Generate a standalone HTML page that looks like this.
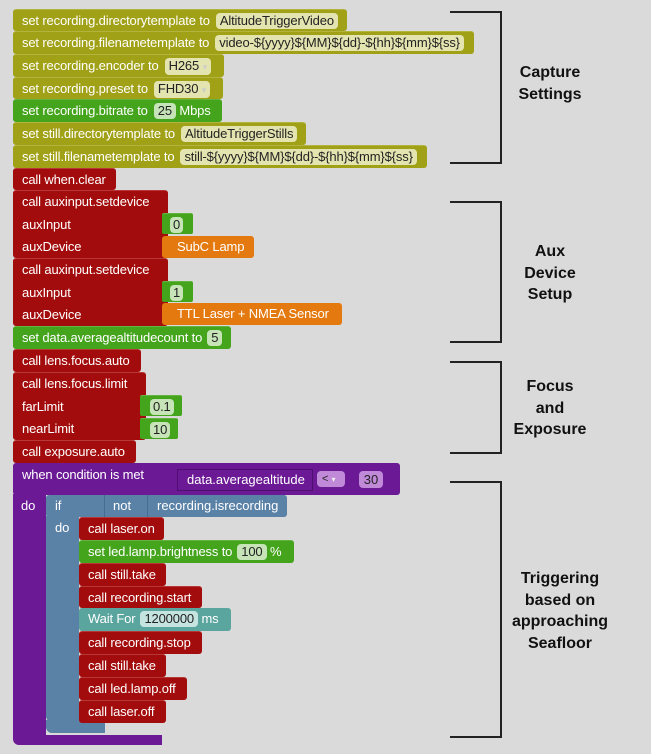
<!DOCTYPE html>
<html><head><meta charset="utf-8"><style>
html,body{margin:0;padding:0;background:#dadada;width:651px;height:754px;overflow:hidden}
body{position:relative;font-family:"Liberation Sans",Arial,sans-serif}
.b{position:absolute;color:#fff;font-size:13px;letter-spacing:-0.15px;line-height:22px;padding-left:9px;box-sizing:border-box;white-space:nowrap;border-radius:3px 3px 3px 3px}
.o{background:#a0a117;border-top:1px solid #b3b43e}
.g{background:#44a41c;border-top:1px solid #62b33f}
.r{background:#a30c0c;border-top:1px solid #b83838}
.or{background:#e3790f}
.p{background:#6c1996}
.bl{background:#5a81a6}
.t{background:#5aa59d}
.f{display:inline-block;padding:0 4px;border-radius:4px;line-height:16px;margin-left:3px;color:#222}
.o .f{background:#e4e4b0}
.g .f,.gi .f{background:#c7e3b8}
.t .f{background:#c5e4e0}
.br{position:absolute;border:2px solid #222;border-left:none;box-sizing:border-box}
.lb{position:absolute;font-weight:bold;font-size:16px;line-height:21.5px;text-align:center;color:#111;width:120px}
</style></head><body>

<div class="b o" style="left:13px;top:9px;width:334px;height:22px">set recording.directorytemplate to<span class="f" style="margin-left:6px">AltitudeTriggerVideo</span></div>
<div class="b o" style="left:13px;top:31px;width:461px;height:23px">set recording.filenametemplate to<span class="f" style="margin-left:6px">video-${yyyy}${MM}${dd}-${hh}${mm}${ss}</span></div>
<div class="b o" style="left:13px;top:54px;width:211px;height:23px">set recording.encoder to<span class="f" style="margin-left:6px">H265 <span style="font-size:9px;color:#ccc">▾</span></span></div>
<div class="b o" style="left:13px;top:77px;width:210px;height:22px">set recording.preset to<span class="f" style="margin-left:6px">FHD30 <span style="font-size:9px;color:#ccc">▾</span></span></div>
<div class="b g" style="left:13px;top:99px;width:209px;height:23px">set recording.bitrate to<span class="f" style="margin-left:6px">25</span> Mbps</div>
<div class="b o" style="left:13px;top:122px;width:293px;height:23px">set still.directorytemplate to<span class="f" style="margin-left:6px">AltitudeTriggerStills</span></div>
<div class="b o" style="left:13px;top:145px;width:414px;height:23px">set still.filenametemplate to<span class="f" style="margin-left:6px">still-${yyyy}${MM}${dd}-${hh}${mm}${ss}</span></div>
<div class="b r" style="left:13px;top:168px;width:103px;height:22px">call when.clear</div>

<div class="b r" style="left:13px;top:190px;width:155px;height:68px;line-height:22.7px">call auxinput.setdevice<br>auxInput<br>auxDevice</div>
<div class="b g" style="left:162px;top:213px;width:31px;height:21px;border-radius:2px;padding-left:8px"><span class="f" style="margin:0;padding:0 3px">0</span></div>
<div class="b or" style="left:162px;top:236px;width:92px;height:22px;padding-left:15px">SubC Lamp</div>
<div class="b r" style="left:13px;top:258px;width:155px;height:68px;line-height:22.7px">call auxinput.setdevice<br>auxInput<br>auxDevice</div>
<div class="b g" style="left:162px;top:281px;width:31px;height:21px;border-radius:2px;padding-left:8px"><span class="f" style="margin:0;padding:0 3px">1</span></div>
<div class="b or" style="left:162px;top:303px;width:180px;height:22px;padding-left:15px">TTL Laser + NMEA Sensor</div>

<div class="b g" style="left:13px;top:326px;width:218px;height:23px">set data.averagealtitudecount to<span class="f" style="margin-left:5px">5</span></div>
<div class="b r" style="left:13px;top:349px;width:128px;height:23px">call lens.focus.auto</div>
<div class="b r" style="left:13px;top:372px;width:133px;height:68px;line-height:22.7px">call lens.focus.limit<br>farLimit<br>nearLimit</div>
<div class="b g" style="left:140px;top:395px;width:42px;height:21px;border-radius:2px;padding-left:10px"><span class="f" style="margin:0;padding:0 3px">0.1</span></div>
<div class="b g" style="left:140px;top:418px;width:38px;height:21px;border-radius:2px;padding-left:10px"><span class="f" style="margin:0;padding:0 3px">10</span></div>
<div class="b r" style="left:13px;top:440px;width:123px;height:23px">call exposure.auto</div>

<!-- purple event -->
<div class="b p" style="left:13px;top:463px;width:387px;height:32px;line-height:24px">when condition is met</div>
<div class="b p" style="left:13px;top:494px;width:33px;height:246px;border-radius:0 0 0 6px;line-height:24px;padding-left:8px">do</div>
<div class="b p" style="left:13px;top:735px;width:149px;height:10px;border-radius:0 0 0 6px"></div>
<div style="position:absolute;left:177px;top:469px;width:136px;height:22px;border:1px solid #4e0f70;box-sizing:border-box;color:#fff;font-size:13px;line-height:20px;padding-left:9px">data.averagealtitude</div>
<div style="position:absolute;left:317px;top:471px;width:28px;height:16px;background:#c08ad8;border-radius:4px;font-size:11px;line-height:16px;color:#222;padding-left:5px;box-sizing:border-box">&lt; <span style="font-size:8px;color:#eee">▾</span></div>
<div style="position:absolute;left:359px;top:471px;width:24px;height:17px;background:#c08ad8;border-radius:4px;font-size:13px;line-height:17px;color:#222;text-align:center">30</div>

<!-- if -->
<div class="b bl" style="left:46px;top:495px;width:241px;height:22px;line-height:22px">if</div>
<div class="b bl" style="left:46px;top:516px;width:33px;height:206px;border-radius:0 0 0 6px;line-height:24px;padding-left:9px">do</div>
<div class="b bl" style="left:46px;top:720px;width:59px;height:13px;border-radius:0 0 0 6px"></div>
<div style="position:absolute;left:104px;top:495px;width:1px;height:22px;background:#476c91"></div>
<div style="position:absolute;left:113px;top:498px;color:#fff;font-size:13px">not</div>
<div style="position:absolute;left:147px;top:495px;width:1px;height:22px;background:#476c91"></div>
<div style="position:absolute;left:157px;top:498px;color:#fff;font-size:13px">recording.isrecording</div>

<div class="b r" style="left:79px;top:517px;width:85px;height:23px">call laser.on</div>
<div class="b g" style="left:79px;top:540px;width:215px;height:23px">set led.lamp.brightness to<span class="f" style="margin-left:5px">100</span> %</div>
<div class="b r" style="left:79px;top:563px;width:87px;height:23px">call still.take</div>
<div class="b r" style="left:79px;top:586px;width:123px;height:22px">call recording.start</div>
<div class="b t" style="left:79px;top:608px;width:152px;height:23px">Wait For<span class="f" style="margin-left:5px">1200000</span> ms</div>
<div class="b r" style="left:79px;top:631px;width:123px;height:23px">call recording.stop</div>
<div class="b r" style="left:79px;top:654px;width:87px;height:23px">call still.take</div>
<div class="b r" style="left:79px;top:677px;width:108px;height:23px">call led.lamp.off</div>
<div class="b r" style="left:79px;top:700px;width:87px;height:23px">call laser.off</div>

<!-- brackets -->
<div class="br" style="left:450px;top:11px;width:52px;height:153px"></div>
<div class="br" style="left:450px;top:201px;width:52px;height:142px"></div>
<div class="br" style="left:450px;top:361px;width:52px;height:93px"></div>
<div class="br" style="left:450px;top:481px;width:52px;height:257px"></div>

<div class="lb" style="left:490px;top:62px">Capture<br>Settings</div>
<div class="lb" style="left:490px;top:241px">Aux<br>Device<br>Setup</div>
<div class="lb" style="left:490px;top:376px">Focus<br>and<br>Exposure</div>
<div class="lb" style="left:500px;top:568px">Triggering<br>based on<br>approaching<br>Seafloor</div>
</body></html>
